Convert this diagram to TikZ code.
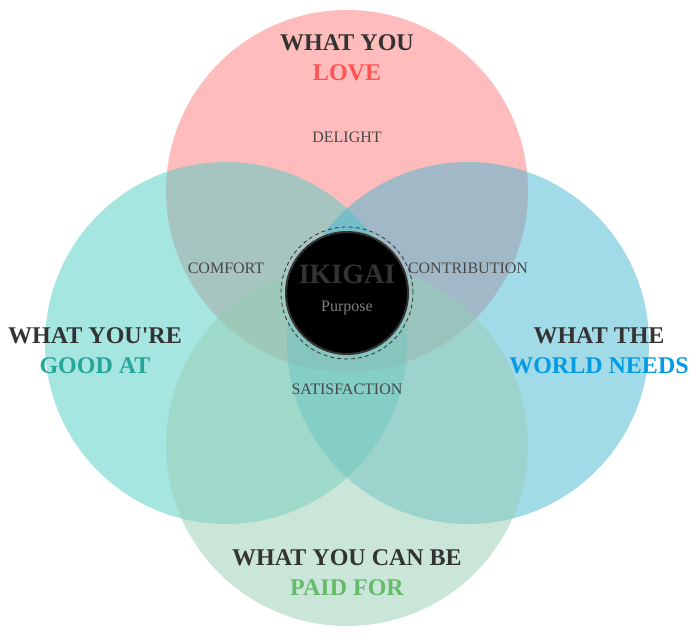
\documentclass[tikz,border=0pt]{standalone}
\usepackage{fontspec}
\setmainfont{Liberation Serif}
\newfontfamily\plainserif{Liberation Serif}
\definecolor{cpink}{HTML}{FF6B6B}
\definecolor{cteal}{HTML}{4ECDC4}
\definecolor{cblue}{HTML}{45B7D1}
\definecolor{cgreen}{HTML}{96CEB4}
\definecolor{tdark}{HTML}{333333}
\definecolor{tlove}{HTML}{FF5252}
\definecolor{tgood}{HTML}{26A69A}
\definecolor{tworld}{HTML}{039BE5}
\definecolor{tpaid}{HTML}{66BB6A}
\begin{document}
\begin{tikzpicture}[x=1pt,y=-1pt,
  venn/.style={circle,minimum size=362pt,inner sep=0pt,fill opacity=0.45,draw=none},
  head/.style={font=\fontsize{24}{28}\selectfont\bfseries,text=tdark,inner sep=0pt},
  sub/.style={font=\fontsize{16}{19}\selectfont,text=tdark!90,inner sep=0pt}]
\useasboundingbox (0,0) rectangle (700,642);
\node[venn,fill=cpink] (love) at (347,191) {};
\node[venn,fill=cteal,fill opacity=0.5] (good) at (226,343) {};
\node[venn,fill=cblue,fill opacity=0.5] (world) at (468,343) {};
\node[venn,fill=cgreen,fill opacity=0.5] (paid) at (347,445) {};
\node[circle,minimum size=132pt,inner sep=0pt,draw=tdark,dash pattern=on 4pt off 3pt,line width=0.8pt] (ring) at (347,293) {};
\node[circle,minimum size=122pt,inner sep=0pt,fill=black,draw=tdark,line width=2pt] (core) at (347,293) {};
\node[font=\fontsize{28}{32}\selectfont\bfseries,text=tdark,inner sep=0pt] (ikigai) at (347,274) {IKIGAI};
\node[font=\fontsize{16}{19}\selectfont,text=black!50,inner sep=0pt] (purpose) at (347,308) {Purpose};
\node[head] (h1) at (347,43) {WHAT YOU};
\node[head,text=tlove] (h1b) at (347,73) {LOVE};
\node[head] (h2) at (95,336) {WHAT YOU{\plainserif\bfseries '}RE};
\node[head,text=tgood] (h2b) at (95,366) {GOOD AT};
\node[head] (h3) at (599,336) {WHAT THE};
\node[head,text=tworld] (h3b) at (599,366) {WORLD NEEDS};
\node[head] (h4) at (347,558) {WHAT YOU CAN BE};
\node[head,text=tpaid] (h4b) at (347,588) {PAID FOR};
\node[sub] (delight) at (347,137) {DELIGHT};
\node[sub] (comfort) at (226,268) {COMFORT};
\node[sub] (contrib) at (468,268) {CONTRIBUTION};
\node[sub] (satis) at (347,389) {SATISFACTION};
\end{tikzpicture}
\end{document}
